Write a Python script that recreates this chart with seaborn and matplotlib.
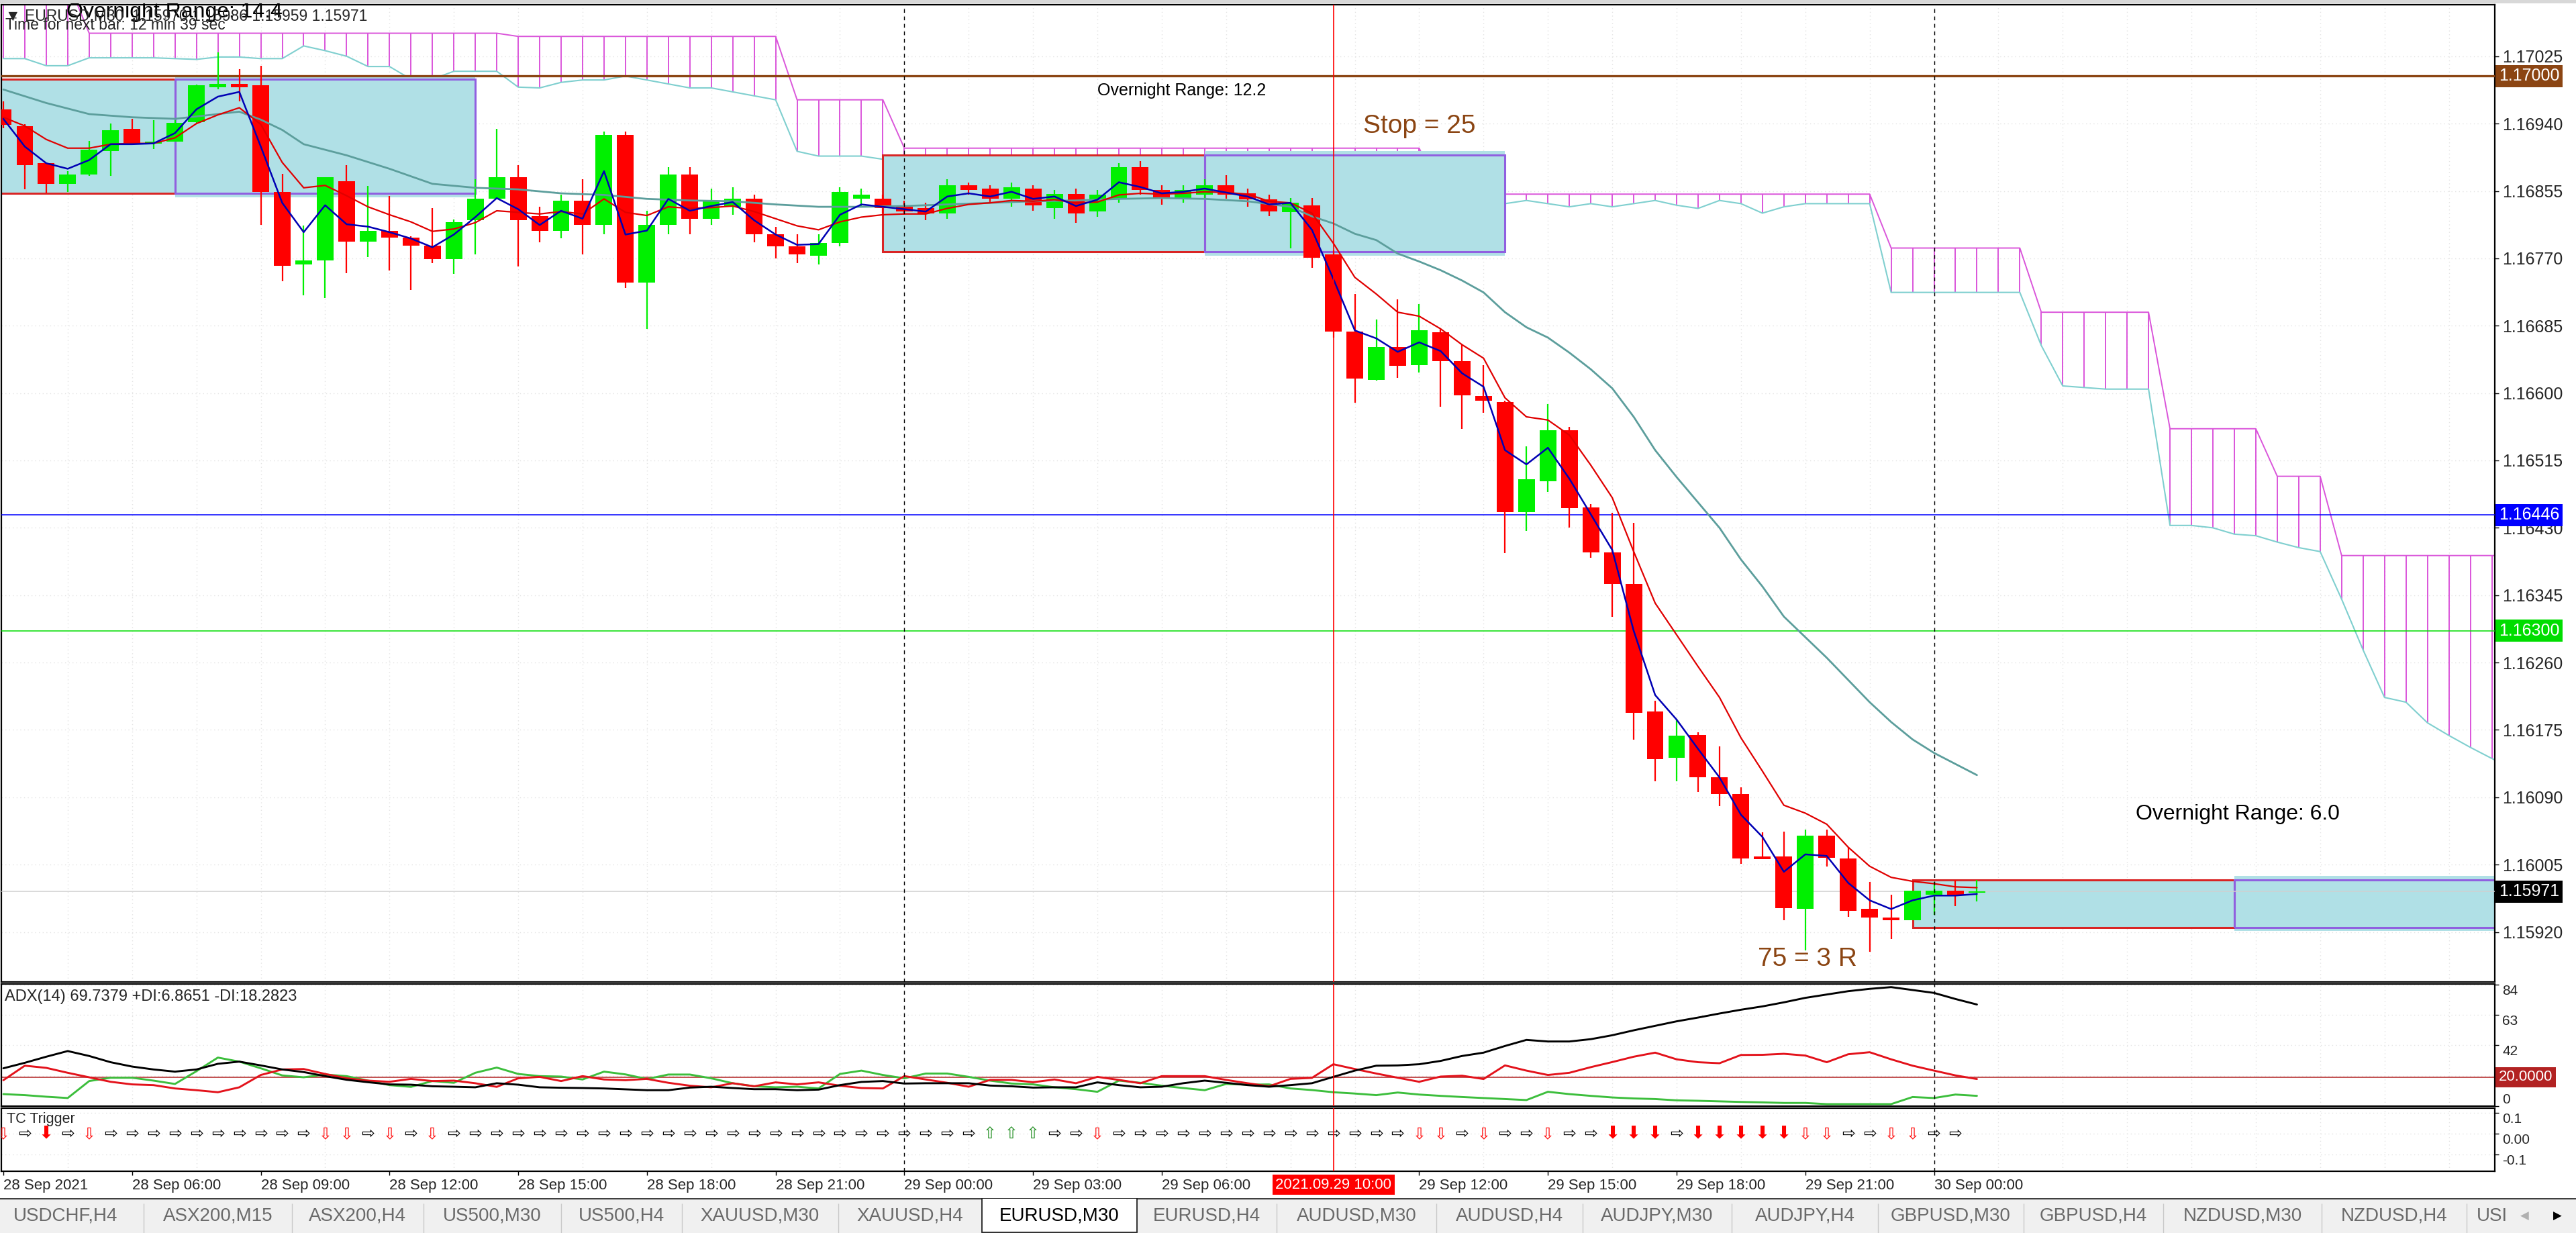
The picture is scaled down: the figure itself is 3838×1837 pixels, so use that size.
import matplotlib
matplotlib.use("Agg")
import matplotlib.pyplot as plt
import matplotlib.transforms as mtrans
from matplotlib.patches import Rectangle
import numpy as np
import pandas as pd
import seaborn as sns

sns.set_theme(style="white")
plt.rcParams["font.family"] = ["Liberation Sans", "DejaVu Sans"]

# ---------------- EURUSD M30 candles (bar 0 = 28 Sep 03:00) ----------------
bar_open = [1.16958, 1.16937, 1.16890, 1.16864, 1.16876, 1.16905, 1.16933, 1.16915, 1.16917, 1.16942,
            1.16986, 1.16990, 1.16988, 1.16854, 1.16762, 1.16767, 1.16867, 1.16791, 1.16805, 1.16796,
            1.16786, 1.16769, 1.16818, 1.16845, 1.16872, 1.16823, 1.16805, 1.16843, 1.16812, 1.16926,
            1.16739, 1.16812, 1.16876, 1.16820, 1.16835, 1.16845, 1.16800, 1.16785, 1.16773, 1.16789,
            1.16845, 1.16845, 1.16835, 1.16833, 1.16827, 1.16862, 1.16858, 1.16845, 1.16858, 1.16833,
            1.16851, 1.16829, 1.16845, 1.16885, 1.16856, 1.16845, 1.16850, 1.16862, 1.16852, 1.16844,
            1.16828, 1.16837, 1.16775, 1.16678, 1.16617, 1.16658, 1.16635, 1.16677, 1.16640, 1.16596,
            1.16589, 1.16450, 1.16489, 1.16553, 1.16456, 1.16399, 1.16359, 1.16198, 1.16140, 1.16169,
            1.16115, 1.16094, 1.16015, 1.16015, 1.15949, 1.16042, 1.16013, 1.15949, 1.15938, 1.15935,
            1.15967, 1.15972, 1.15970]
bar_high = [1.16968, 1.16939, 1.16890, 1.16880, 1.16918, 1.16940, 1.16946, 1.16944, 1.16944, 1.16989,
            1.17030, 1.17009, 1.17013, 1.16877, 1.16811, 1.16872, 1.16888, 1.16861, 1.16849, 1.16798,
            1.16833, 1.16819, 1.16870, 1.16933, 1.16888, 1.16835, 1.16850, 1.16870, 1.16930, 1.16930,
            1.16830, 1.16885, 1.16885, 1.16858, 1.16860, 1.16850, 1.16810, 1.16800, 1.16800, 1.16860,
            1.16858, 1.16850, 1.16843, 1.16840, 1.16870, 1.16866, 1.16862, 1.16866, 1.16862, 1.16856,
            1.16858, 1.16856, 1.16890, 1.16893, 1.16862, 1.16862, 1.16870, 1.16875, 1.16858, 1.16850,
            1.16846, 1.16846, 1.16780, 1.16725, 1.16693, 1.16718, 1.16712, 1.16680, 1.16661, 1.16635,
            1.16590, 1.16533, 1.16586, 1.16557, 1.16460, 1.16449, 1.16436, 1.16212, 1.16189, 1.16172,
            1.16154, 1.16103, 1.16046, 1.16047, 1.16049, 1.16049, 1.16026, 1.15983, 1.15967, 1.15972,
            1.15983, 1.15986, 1.15986]
bar_low = [1.16934, 1.16857, 1.16852, 1.16854, 1.16874, 1.16874, 1.16913, 1.16908, 1.16917, 1.16941,
           1.16983, 1.16968, 1.16812, 1.16741, 1.16723, 1.16720, 1.16751, 1.16772, 1.16755, 1.16730,
           1.16764, 1.16750, 1.16775, 1.16845, 1.16760, 1.16790, 1.16795, 1.16775, 1.16800, 1.16733,
           1.16681, 1.16800, 1.16800, 1.16812, 1.16825, 1.16790, 1.16770, 1.16764, 1.16762, 1.16785,
           1.16835, 1.16827, 1.16825, 1.16818, 1.16820, 1.16850, 1.16840, 1.16835, 1.16830, 1.16820,
           1.16815, 1.16822, 1.16840, 1.16850, 1.16838, 1.16840, 1.16845, 1.16845, 1.16835, 1.16823,
           1.16783, 1.16758, 1.16670, 1.16588, 1.16616, 1.16619, 1.16626, 1.16583, 1.16555, 1.16575,
           1.16398, 1.16426, 1.16475, 1.16430, 1.16392, 1.16318, 1.16163, 1.16110, 1.16110, 1.16097,
           1.16079, 1.16006, 1.16012, 1.15935, 1.15897, 1.16003, 1.15939, 1.15895, 1.15911, 1.15935,
           1.15942, 1.15953, 1.15959]
bar_close = [1.16938, 1.16888, 1.16864, 1.16876, 1.16907, 1.16932, 1.16915, 1.16917, 1.16941, 1.16988,
             1.16990, 1.16986, 1.16854, 1.16761, 1.16767, 1.16872, 1.16791, 1.16805, 1.16796, 1.16786,
             1.16769, 1.16816, 1.16845, 1.16872, 1.16818, 1.16805, 1.16843, 1.16812, 1.16926, 1.16739,
             1.16812, 1.16876, 1.16820, 1.16843, 1.16845, 1.16800, 1.16785, 1.16775, 1.16789, 1.16854,
             1.16850, 1.16833, 1.16829, 1.16827, 1.16862, 1.16856, 1.16845, 1.16860, 1.16837, 1.16851,
             1.16827, 1.16850, 1.16885, 1.16856, 1.16845, 1.16856, 1.16862, 1.16850, 1.16844, 1.16829,
             1.16840, 1.16771, 1.16678, 1.16618, 1.16658, 1.16634, 1.16679, 1.16640, 1.16597, 1.16590,
             1.16450, 1.16491, 1.16553, 1.16455, 1.16399, 1.16359, 1.16197, 1.16138, 1.16168, 1.16115,
             1.16094, 1.16013, 1.16012, 1.15950, 1.16042, 1.16014, 1.15947, 1.15938, 1.15935, 1.15972,
             1.15972, 1.15967, 1.15971]

# moving averages
ma_fast = [1.16946, 1.16911, 1.16890, 1.16883, 1.16894, 1.16914, 1.16914, 1.16915, 1.16928, 1.16958,
           1.16974, 1.16980, 1.16911, 1.16840, 1.16803, 1.16837, 1.16813, 1.16810, 1.16803, 1.16795,
           1.16784, 1.16800, 1.16822, 1.16846, 1.16832, 1.16812, 1.16830, 1.16820, 1.16880, 1.16800,
           1.16805, 1.16845, 1.16830, 1.16836, 1.16841, 1.16818, 1.16800, 1.16787, 1.16788, 1.16825,
           1.16838, 1.16835, 1.16832, 1.16829, 1.16848, 1.16852, 1.16848, 1.16854, 1.16845, 1.16848,
           1.16836, 1.16844, 1.16866, 1.16860, 1.16852, 1.16854, 1.16858, 1.16853, 1.16848, 1.16838,
           1.16840, 1.16806, 1.16744, 1.16679, 1.16669, 1.16652, 1.16664, 1.16653, 1.16625, 1.16608,
           1.16528, 1.16510, 1.16531, 1.16492, 1.16447, 1.16402, 1.16300, 1.16219, 1.16188, 1.16151,
           1.16115, 1.16068, 1.16040, 1.15996, 1.16018, 1.16016, 1.15982, 1.15960, 1.15949, 1.15960,
           1.15966, 1.15966, 1.15968]
ma_mid = [1.16948, 1.16937, 1.16920, 1.16909, 1.16909, 1.16914, 1.16915, 1.16915, 1.16922, 1.16940,
          1.16951, 1.16960, 1.16939, 1.16891, 1.16859, 1.16862, 1.16849, 1.16835, 1.16825, 1.16816,
          1.16804, 1.16807, 1.16815, 1.16830, 1.16828, 1.16826, 1.16829, 1.16826, 1.16845, 1.16828,
          1.16824, 1.16835, 1.16833, 1.16834, 1.16836, 1.16829, 1.16820, 1.16811, 1.16806, 1.16816,
          1.16822, 1.16825, 1.16826, 1.16826, 1.16833, 1.16838, 1.16840, 1.16843, 1.16842, 1.16844,
          1.16840, 1.16841, 1.16850, 1.16852, 1.16851, 1.16852, 1.16854, 1.16853, 1.16851, 1.16842,
          1.16840, 1.16827, 1.16789, 1.16746, 1.16725, 1.16702, 1.16697, 1.16681, 1.16661, 1.16644,
          1.16594, 1.16570, 1.16566, 1.16547, 1.16509, 1.16468, 1.16400, 1.16335, 1.16295, 1.16255,
          1.16216, 1.16165, 1.16123, 1.16080, 1.16070, 1.16056, 1.16027, 1.16003, 1.15989, 1.15984,
          1.15981, 1.15977, 1.15976]
ma_slow_idx = [0, 2, 4, 6, 8, 10, 11, 12, 13, 14, 16, 18, 20, 22, 24, 26, 28, 30, 32, 34, 36, 38, 40,
               42, 44, 46, 48, 50, 52, 54, 56, 58, 60, 61, 62, 63, 64, 65, 66, 67, 68, 69, 70, 71, 72,
               73, 74, 75, 76, 77, 78, 79, 80, 81, 82, 83, 84, 85, 86, 87, 88, 89, 90, 91, 92]
ma_slow = [1.16983, 1.16966, 1.16952, 1.16948, 1.16946, 1.16952, 1.16955, 1.16945, 1.16932, 1.16914,
           1.16900, 1.16883, 1.16864, 1.16859, 1.16857, 1.16852, 1.16850, 1.16845, 1.16843, 1.16842,
           1.16838, 1.16835, 1.16835, 1.16836, 1.16838, 1.16840, 1.16842, 1.16843, 1.16845, 1.16846,
           1.16845, 1.16842, 1.16835, 1.16823, 1.16814, 1.16801, 1.16793, 1.16776, 1.16766, 1.16755,
           1.16742, 1.16727, 1.16702, 1.16683, 1.16670, 1.16651, 1.16630, 1.16606, 1.16570, 1.16528,
           1.16494, 1.16462, 1.16430, 1.16390, 1.16356, 1.16318, 1.16292, 1.16266, 1.16238, 1.16210,
           1.16185, 1.16163, 1.16146, 1.16132, 1.16118]

# ichimoku cloud (projected 26 bars ahead)
cloud_top = [1.17120, 1.17120, 1.17120, 1.17120] + [1.17054] * 20 + [1.17050] * 13 + [1.16970] * 5 \
    + [1.16909] * 25 + [1.16851] * 21 + [1.16783] * 7 + [1.16702] * 6 + [1.16555] * 5 \
    + [1.16495] * 3 + [1.16395] * 10
cloud_bottom = [1.17022, 1.17022, 1.17013, 1.17013, 1.17023, 1.17023, 1.17023, 1.17023, 1.17022, 1.17021,
                1.17024, 1.17024, 1.17022, 1.17022, 1.17038, 1.17032, 1.17025, 1.17012, 1.17012, 1.16996,
                1.16996, 1.17006, 1.17006, 1.17006, 1.16986, 1.16985, 1.16992, 1.16995, 1.16995, 1.17000,
                1.16995, 1.16990, 1.16985, 1.16985, 1.16980, 1.16975, 1.16970, 1.16905, 1.16899, 1.16899,
                1.16899, 1.16895, 1.16893, 1.16890, 1.16864, 1.16880, 1.16889, 1.16889, 1.16889, 1.16887,
                1.16885, 1.16885, 1.16893, 1.16890, 1.16887, 1.16885, 1.16883, 1.16885, 1.16887, 1.16889,
                1.16889, 1.16885, 1.16883, 1.16880, 1.16883, 1.16887, 1.16889, 1.16843, 1.16839, 1.16837,
                1.16839, 1.16843, 1.16839, 1.16835, 1.16839, 1.16835, 1.16839, 1.16843, 1.16837, 1.16833,
                1.16843, 1.16839, 1.16827, 1.16835, 1.16839, 1.16839, 1.16839, 1.16839, 1.16727, 1.16727,
                1.16727, 1.16727, 1.16727, 1.16727, 1.16727, 1.16660, 1.16609, 1.16607, 1.16605, 1.16605,
                1.16605, 1.16433, 1.16433, 1.16430, 1.16422, 1.16420, 1.16412, 1.16405, 1.16400, 1.16340,
                1.16276, 1.16216, 1.16210, 1.16184, 1.16168, 1.16153, 1.16139, 1.16125, 1.16110]

# overnight range boxes: start bar, end bar, low, high, kind
box_start = [-6, 8, 41, 56, 89, 104]
box_end = [8, 22, 56, 70, 104, 120]
box_low = [1.16852, 1.16852, 1.16778, 1.16778, 1.15926, 1.15926]
box_high = [1.16996, 1.16996, 1.16900, 1.16900, 1.15986, 1.15986]
box_kind = ["range", "session", "range", "session", "range", "session"]

# horizontal levels
level_price = [1.17000, 1.16446, 1.16300]
level_color = ["#8B4513", "#0000FF", "#00DD00"]
bid_price = 1.15971

# chart notes
note_text = ["Overnight Range: 14.4", "Overnight Range: 12.2", "Stop = 25",
             "Overnight Range: 6.0", "75 = 3 R"]
note_bar = [2.94, 51.0, 63.4, 99.4, 81.8]
note_price = [1.17081, 1.16982, 1.16937, 1.16069, 1.15886]
note_color = ["black", "black", "#8B4513", "black", "#8B4513"]
note_size = [23, 18, 28, 23, 28]

# ADX(14)
adx_line = [26.1, 29.9, 34.1, 38.0, 34.6, 30.3, 27.3, 25.3, 23.8, 25.3,
            29.2, 30.7, 28.1, 25.3, 23.5, 20.7, 18.2, 16.5, 15.0, 14.8,
            13.7, 13.4, 13.0, 15.8, 14.8, 13.0, 12.7, 12.5, 12.2, 11.6,
            11.0, 11.0, 12.8, 13.4, 12.5, 11.7, 11.7, 11.0, 11.4, 14.5,
            16.7, 17.3, 15.6, 15.8, 15.8, 15.8, 14.2, 13.7, 12.8, 13.0,
            13.0, 16.4, 14.5, 13.0, 13.4, 15.8, 17.6, 16.1, 14.5, 13.4,
            14.5, 15.8, 20.2, 24.5, 27.9, 28.1, 28.9, 31.2, 34.6, 36.9,
            41.5, 45.7, 44.6, 44.6, 46.2, 48.9, 52.3, 55.4, 58.5, 61.1,
            63.9, 66.5, 68.8, 71.6, 74.7, 77.0, 79.3, 80.9, 82.1, 80.1,
            78.1, 73.9, 70.1]
plus_di = [8.3, 7.6, 6.5, 5.6, 17.3, 19.6, 19.6, 17.6, 15.3, 24.1,
           33.5, 30.7, 26.1, 21.2, 19.9, 21.8, 20.7, 17.6, 14.5, 13.3,
           17.3, 16.1, 23.0, 26.6, 22.2, 20.7, 20.4, 18.4, 23.8, 21.9,
           18.7, 21.8, 21.8, 19.2, 15.8, 13.7, 13.0, 13.4, 12.2, 22.2,
           24.5, 21.5, 19.2, 22.5, 22.5, 20.2, 17.6, 15.6, 15.0, 13.0,
           11.7, 9.9, 17.6, 16.1, 14.1, 12.5, 11.0, 15.3, 14.8, 15.0,
           12.2, 11.1, 9.6, 8.7, 7.6, 9.4, 8.0, 7.1, 6.3, 5.6,
           4.9, 4.2, 9.9, 8.3, 7.1, 6.0, 5.3, 4.9, 4.0, 3.7,
           3.3, 2.9, 2.6, 2.2, 2.2, 1.4, 1.4, 1.4, 1.4, 6.3,
           5.6, 8.0, 7.1]
minus_di = [17.9, 27.9, 26.4, 23.0, 19.9, 16.8, 15.0, 14.5, 12.2, 11.0,
            9.6, 13.0, 21.5, 25.3, 25.6, 22.2, 19.2, 17.6, 16.8, 18.8,
            17.3, 17.6, 15.8, 13.3, 19.2, 20.2, 17.3, 20.7, 18.4, 17.9,
            18.8, 16.1, 14.1, 13.0, 15.8, 13.7, 16.4, 15.0, 16.4, 14.1,
            12.5, 12.2, 20.7, 18.4, 16.1, 13.4, 18.1, 18.1, 16.5, 18.4,
            15.8, 20.2, 18.1, 15.8, 20.7, 20.7, 20.7, 18.1, 15.8, 13.7,
            18.8, 19.5, 28.9, 25.6, 22.5, 19.6, 16.8, 20.4, 21.0, 18.7,
            28.1, 24.5, 21.5, 23.0, 26.9, 30.4, 34.1, 36.9, 32.3, 30.3,
            29.6, 35.3, 35.4, 36.1, 34.9, 30.3, 35.8, 37.2, 32.3, 27.9,
            24.5, 21.2, 18.7]

# TC Trigger: R = neutral, D = sell hint, S = strong sell, U = buy hint
tc_signal = list("DRSRDRRRRRRRRRRDDRDRD"
                 "RRRRRRRRRRRRRRRRRRRRRRRRR"
                 "UUURRD"
                 "RRRRRRRRRRRRRR"
                 "DDRDRRDRRSSSRSSSSSDDRRDDRR")

# axes labels (the 29 Sep 09:00 slot sits under the cursor time label)
price_ticks = [1.17025, 1.16940, 1.16855, 1.16770, 1.16685, 1.16600, 1.16515,
               1.16430, 1.16345, 1.16260, 1.16175, 1.16090, 1.16005, 1.15920]
time_idx = [0, 6, 12, 18, 24, 30, 36, 42, 48, 54, 66, 72, 78, 84, 90]
time_labels = ["28 Sep 2021", "28 Sep 06:00", "28 Sep 09:00", "28 Sep 12:00", "28 Sep 15:00",
               "28 Sep 18:00", "28 Sep 21:00", "29 Sep 00:00", "29 Sep 03:00", "29 Sep 06:00",
               "29 Sep 12:00", "29 Sep 15:00", "29 Sep 18:00", "29 Sep 21:00", "30 Sep 00:00"]
cursor_bar = 62
cursor_label = "2021.09.29 10:00"
day_breaks = [42, 90]

tab_labels = ["USDCHF,H4", "ASX200,M15", "ASX200,H4", "US500,M30", "US500,H4", "XAUUSD,M30",
              "XAUUSD,H4", "EURUSD,M30", "EURUSD,H4", "AUDUSD,M30", "AUDUSD,H4", "AUDJPY,M30",
              "AUDJPY,H4", "GBPUSD,M30", "GBPUSD,H4", "NZDUSD,M30", "NZDUSD,H4"]
tab_edges = [0, 214, 435, 631, 836, 1016, 1249, 1463, 1694, 1902, 2140, 2358, 2580, 2798,
             3015, 3223, 3459, 3675]
active_tab = "EURUSD,M30"

# ---------------- layout ----------------
W, H = 3838, 1837
GREEN, RED = "#00F000", "#FF0000"
fig = plt.figure(figsize=(W / 100, H / 100), dpi=100, facecolor="white")


def panel(top, bottom):
    a = fig.add_axes([2 / W, 1 - bottom / H, (3717 - 2) / W, (bottom - top) / H])
    a.set_facecolor("white")
    for s in a.spines.values():
        s.set_color("black")
        s.set_linewidth(1.6)
    a.set_xlim(-0.094, 116.14)
    a.set_xticks(np.arange(0, 117, 3), minor=True)
    a.grid(which="minor", axis="x", color="#e3e3e3", ls=(0, (1, 3)), lw=1)
    a.tick_params(axis="x", which="both", bottom=False, labelbottom=False)
    a.yaxis.tick_right()
    a.tick_params(axis="y", direction="out", length=4, width=1, color="black",
                  right=True, left=False, labelright=True, labelleft=False, pad=4)
    return a


ax = panel(7, 1463)
ax_adx = panel(1466, 1648)
ax_tc = panel(1651, 1745)

# ---- main price panel ----
ax.set_ylim(1.15857, 1.17090)
ax.set_yticks(price_ticks)
ax.set_yticklabels([f"{p:.5f}" for p in price_ticks], fontsize=18)
ax.grid(axis="y", which="major", color="#e3e3e3", ls=(0, (1, 3)), lw=1)

cloud_idx = np.arange(len(cloud_top))
ax.vlines(cloud_idx, cloud_bottom, cloud_top, colors="#DA55DA", lw=1.4, zorder=1)
sns.lineplot(x=cloud_idx, y=cloud_top, ax=ax, color="#DA55DA", lw=1.4, zorder=1)
sns.lineplot(x=cloud_idx, y=cloud_bottom, ax=ax, color="#7FCFCF", lw=1.5, zorder=1)

pad = 0.00005
for s, e, lo, hi, kind in zip(box_start, box_end, box_low, box_high, box_kind):
    if kind == "session":
        ax.add_patch(Rectangle((s, lo - pad), e - s, hi - lo + 2 * pad,
                               facecolor="#B0E0E6", edgecolor="none", zorder=2))
        ax.add_patch(Rectangle((s, lo), e - s, hi - lo, facecolor="none",
                               edgecolor="#9060E0", lw=2.2, zorder=2.5))
    else:
        ax.add_patch(Rectangle((s, lo), e - s, hi - lo, facecolor="#B0E0E6",
                               edgecolor="#D92525", lw=2.2, zorder=2.5))

for p, c in zip(level_price, level_color):
    ax.axhline(p, color=c, lw=2.4 if p == 1.17000 else 1.1, zorder=3)
ax.axhline(bid_price, color="#D0D0D0", lw=1.1, zorder=3)

bars = pd.DataFrame({"open": bar_open, "high": bar_high, "low": bar_low, "close": bar_close})
bars["idx"] = np.arange(len(bars))
bar_colors = np.where(bars["close"] >= bars["open"], GREEN, RED)
ax.vlines(bars["idx"], bars["low"], bars["high"], colors=bar_colors, lw=1.6, zorder=4)
ax.bar(bars["idx"], (bars["close"] - bars["open"]).abs(),
       bottom=bars[["open", "close"]].min(axis=1), width=0.78,
       color=bar_colors, linewidth=0, zorder=5)

sns.lineplot(x=ma_slow_idx, y=ma_slow, ax=ax, color="#5C9E9C", lw=2.0, zorder=6)
sns.lineplot(x=bars["idx"], y=ma_mid, ax=ax, color="#E00000", lw=1.6, zorder=6)
sns.lineplot(x=bars["idx"], y=ma_fast, ax=ax, color="#0000B4", lw=1.8, zorder=7)
ax.set_xlabel("")
ax.set_ylabel("")

for t, xb, yp, c, fs in zip(note_text, note_bar, note_price, note_color, note_size):
    ax.text(xb, yp, t, color=c, fontsize=fs, ha="left", va="center", zorder=9)

tagtr = mtrans.blended_transform_factory(ax.transAxes, ax.transData)
for p, c in zip(level_price + [bid_price], level_color + ["black"]):
    ax.text(1.0016, p, f"{p:.5f}", transform=tagtr, fontsize=18, color="white",
            ha="left", va="center", clip_on=False, zorder=10,
            bbox=dict(boxstyle="square,pad=0.18", facecolor=c, edgecolor="none"))

# ---- ADX panel ----
ax_adx.set_ylim(0, 84.26)
ax_adx.set_yticks([84, 63, 42, 21, 0])
ax_adx.set_yticklabels(["84", "63", "42", "", "0"], fontsize=15)
for lbl in ax_adx.get_yticklabels():
    lbl.set_va("bottom" if lbl.get_text() == "0" else "top")
ax_adx.grid(axis="y", which="major", color="#e3e3e3", ls=(0, (1, 3)), lw=1)
ax_adx.axhline(20, color="#B22222", lw=1.1, zorder=2)
sns.lineplot(x=bars["idx"], y=plus_di, ax=ax_adx, color="#3CBE3C", lw=2.1, zorder=3)
sns.lineplot(x=bars["idx"], y=minus_di, ax=ax_adx, color="#E3121B", lw=2.1, zorder=4)
sns.lineplot(x=bars["idx"], y=adx_line, ax=ax_adx, color="black", lw=2.1, zorder=5)
ax_adx.set_xlabel("")
ax_adx.set_ylabel("")
ax_adx.text(0.0013, 0.895, "ADX(14) 69.7379 +DI:6.8651 -DI:18.2823", transform=ax_adx.transAxes,
            fontsize=17, ha="left", va="center")
adxtr = mtrans.blended_transform_factory(ax_adx.transAxes, ax_adx.transData)
ax_adx.text(1.0016, 20, "20.0000", transform=adxtr, fontsize=16, color="white",
            ha="left", va="center", clip_on=False, zorder=10,
            bbox=dict(boxstyle="square,pad=0.2", facecolor="#B22222", edgecolor="none"))

# ---- TC Trigger panel ----
ax_tc.set_ylim(-0.1806, 0.1226)
ax_tc.set_yticks([0.1, 0.0, -0.1])
ax_tc.set_yticklabels(["0.1", "0.00", "-0.1"], fontsize=15)
for lbl in ax_tc.get_yticklabels():
    lbl.set_va("top")
ax_tc.grid(axis="y", which="major", color="#e3e3e3", ls=(0, (1, 3)), lw=1)
ax_tc.text(0.0022, 0.82, "TC Trigger", transform=ax_tc.transAxes, fontsize=15.5,
           ha="left", va="center")
glyphs = {"R": ("\u21E8", "black", 17), "D": ("\u21E9", "#FF0000", 17),
          "U": ("\u21E7", "#1E8C1E", 17), "S": ("\u2B07", "#FF0000", 19)}
for i, code in enumerate(tc_signal):
    g, c, fs = glyphs[code]
    ax_tc.text(i, 0.0, g, color=c, fontsize=fs, ha="center", va="center",
               family=["DejaVu Sans"], clip_on=True, zorder=4)

ax_tc.set_xticks(time_idx)
ax_tc.set_xticklabels(time_labels, fontsize=16, ha="left")
ax_tc.tick_params(axis="x", which="major", bottom=True, labelbottom=True,
                  direction="out", length=4, width=1, color="black", pad=4)
ax_tc.text(cursor_bar, -0.215, cursor_label, transform=mtrans.blended_transform_factory(
    ax_tc.transData, ax_tc.transAxes), fontsize=16, color="white", ha="center", va="center",
    clip_on=False, zorder=10,
    bbox=dict(boxstyle="square,pad=0.2", facecolor="#FF0000", edgecolor="none"))

for a in (ax, ax_adx, ax_tc):
    a.axvline(cursor_bar, color="#FF0000", lw=1.2, zorder=8)
    for d in day_breaks:
        a.axvline(d, color="black", lw=1.0, ls=(0, (4, 4)), zorder=8)

# ---- header text ----
fig.text(8 / W, 1 - 24 / H, "\u25BC EURUSD,M30  1.15970 1.15986 1.15959 1.15971",
         fontsize=16.5, ha="left", va="center")
fig.text(8 / W, 1 - 37 / H, "Time for next bar: 12 min 39 sec", fontsize=16.5,
         ha="left", va="center")
fig.patches.append(Rectangle((0, 1 - 5 / H), 1, 5 / H, transform=fig.transFigure,
                             facecolor="#D8D8D8", edgecolor="none"))

# ---- terminal tab strip ----
ax_tab = fig.add_axes([0, 0, 1, 52 / H])
ax_tab.set_xlim(0, W)
ax_tab.set_ylim(52, 0)
ax_tab.axis("off")
ax_tab.add_patch(Rectangle((0, 0), W, 52, facecolor="#F0F0F0", edgecolor="none"))
ax_tab.axhline(0.5, color="#404040", lw=1.5)
for k, name in enumerate(tab_labels):
    left, right = tab_edges[k], tab_edges[k + 1]
    if name == active_tab:
        ax_tab.add_patch(Rectangle((left, 0), right - left, 51, facecolor="white",
                                   edgecolor="#202020", lw=1.3, zorder=2))
    else:
        ax_tab.vlines(right, 8, 52, colors="#C8C8C8", lw=1)
    cx = 98 if k == 0 else (left + right) / 2
    ax_tab.text(cx, 27, name, fontsize=20, ha="center", va="center", zorder=3,
                color="black" if name == active_tab else "#6A6A6A")
# last tab is cut by the scroll buttons
ax_tab.text(3690, 27, "USI", fontsize=20, ha="left", va="center", color="#6A6A6A", zorder=3)
ax_tab.text(3761, 27, "\u25C0", fontsize=12, color="#B0B0B0", ha="center", va="center",
            zorder=5, family=["DejaVu Sans"])
ax_tab.text(3810, 27, "\u25B6", fontsize=12, color="black", ha="center", va="center",
            zorder=5, family=["DejaVu Sans"])

fig.savefig("out.png", dpi=100, facecolor="white")
